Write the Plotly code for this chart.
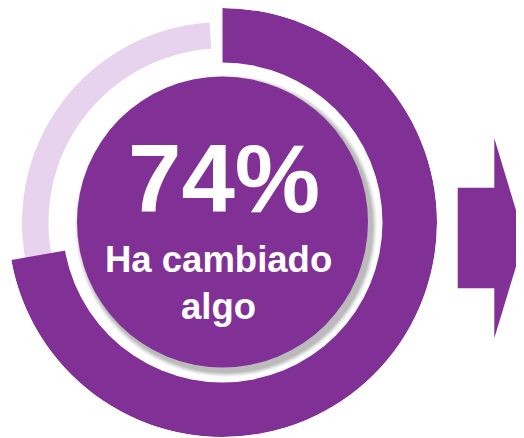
import plotly.graph_objects as go

OFF = 8  # page body margin offset of the rendered figure
W, H = 524 - OFF, 438 - OFF

# ---- data ----
labels = ["Ha cambiado algo", "Resto"]
pct_values = [74, 26]            # headline value
arc_share = [72.2, 27.8]         # share of the circle swept by each arc as drawn
colors = ["#813196", "#E8D3EE"]
headline = f"{pct_values[0]}%"
caption_lines = ["Ha cambiado", "algo"]

# ---- geometry helpers (screen pixel -> paper) ----
CX, CY, R = 222.5, 222.5, 214.5


def px(x):
    return (x - OFF) / W


def py(y):
    return 1 - (y - OFF) / H


def circle(cx, cy, r, color):
    return dict(type="circle", xref="paper", yref="paper", layer="above",
                x0=px(cx - r), x1=px(cx + r), y0=py(cy + r), y1=py(cy - r),
                fillcolor=color, line=dict(width=0))


fig = go.Figure()

dark_sweep = arc_share[0] * 3.6
light_sweep = arc_share[1] * 3.6
gap = 3.7
light_end = 360 - gap
light_start = light_end - light_sweep

fig.add_trace(go.Barpolar(
    name=labels[1], theta=[(light_start + light_end) / 2], width=[light_sweep],
    base=[174], r=[26.5], marker=dict(color=colors[1], line=dict(width=0)),
    hoverinfo="skip"))
fig.add_trace(go.Barpolar(
    name=labels[0], theta=[dark_sweep / 2], width=[dark_sweep],
    base=[158], r=[R - 158], marker=dict(color=colors[0], line=dict(width=0)),
    hoverinfo="skip"))

shapes = [circle(CX, CY, 160, "#FFFFFF")]
# soft drop shadow of the inner disc (down-right)
for r, c in [(151.0, "#F4F4F4"), (150.0, "#E8E8E8"), (149.0, "#DADADA"),
             (148.0, "#CACACA"), (147.0, "#BBBBBB")]:
    shapes.append(circle(CX + 3.5, CY + 3.5, r, c))
shapes.append(circle(CX, CY - 0.5, 145.5, colors[0]))

# arrow on the right
ax = [457.7, 494.3, 524.5]
ay_shaft = [187.7, 288.3]
ay_head = [138.3, 338.3]
ay_tip = 238.3
path = (f"M {px(ax[0])},{py(ay_shaft[0])} L {px(ax[1])},{py(ay_shaft[0])} "
        f"L {px(ax[1])},{py(ay_head[0])} L {px(ax[2])},{py(ay_tip)} "
        f"L {px(ax[1])},{py(ay_head[1])} L {px(ax[1])},{py(ay_shaft[1])} "
        f"L {px(ax[0])},{py(ay_shaft[1])} Z")
shapes.append(dict(type="path", xref="paper", yref="paper", layer="above",
                   path=path, fillcolor=colors[0], line=dict(width=0)))

font_family = "Liberation Sans, Arial, sans-serif"
annotations = [
    dict(text=f"<b>{headline}</b>", x=px(224), y=py(178), xref="paper", yref="paper",
         xanchor="center", yanchor="middle", showarrow=False,
         font=dict(family=font_family, size=96, color="white")),
    dict(text=f"<b>{caption_lines[0]}</b>", x=px(218.3), y=py(259.5), xref="paper", yref="paper",
         xanchor="center", yanchor="middle", showarrow=False,
         font=dict(family=font_family, size=36.5, color="white")),
    dict(text=f"<b>{caption_lines[1]}</b>", x=px(218.3), y=py(306), xref="paper", yref="paper",
         xanchor="center", yanchor="middle", showarrow=False,
         font=dict(family=font_family, size=36.5, color="white")),
]

fig.update_layout(
    width=W, height=H, margin=dict(l=0, r=0, t=0, b=0),
    paper_bgcolor="white", plot_bgcolor="white", showlegend=False,
    polar=dict(
        domain=dict(x=[px(CX - R), px(CX + R)], y=[py(CY + R), py(CY - R)]),
        bgcolor="rgba(0,0,0,0)", hole=0,
        angularaxis=dict(direction="clockwise", rotation=90, visible=False,
                         showgrid=False, showline=False, ticks=""),
        radialaxis=dict(range=[0, R], visible=False, showgrid=False,
                        showline=False, ticks=""),
    ),
    shapes=shapes, annotations=annotations,
)

fig.write_html("out.html")
